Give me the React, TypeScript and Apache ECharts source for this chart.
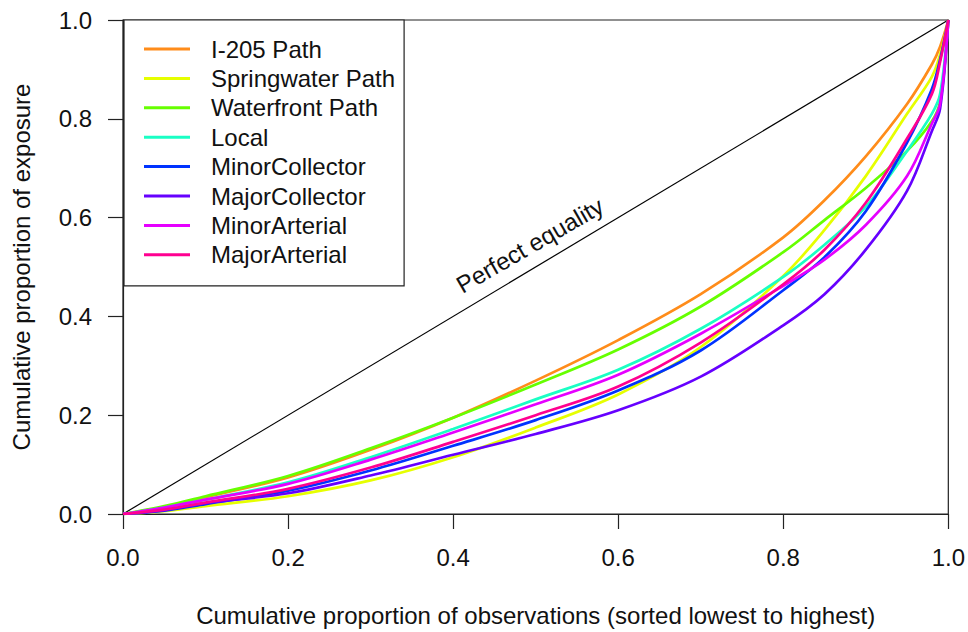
import React, { useEffect, useRef } from "react";
import * as echarts from "echarts";

const xs = [0, 0.05, 0.1, 0.2, 0.3, 0.4, 0.5, 0.6, 0.7, 0.8, 0.85, 0.9, 0.95, 0.98, 0.99, 1.0];

const seriesNames = [
  "I-205 Path",
  "Springwater Path",
  "Waterfront Path",
  "Local",
  "MinorCollector",
  "MajorCollector",
  "MinorArterial",
  "MajorArterial",
];

const seriesColors = ["#FF8C1A", "#E6FF00", "#66FF00", "#1AFFC4", "#0033FF", "#6600FF", "#E600FF", "#FF0090"];

const i205 = [0, 0.014, 0.034, 0.074, 0.13, 0.195, 0.27, 0.352, 0.445, 0.56, 0.635, 0.724, 0.83, 0.91, 0.946, 1];
const springwater = [0, 0.006, 0.016, 0.036, 0.068, 0.115, 0.175, 0.242, 0.338, 0.482, 0.575, 0.684, 0.81, 0.885, 0.93, 1];
const waterfront = [0, 0.016, 0.036, 0.077, 0.133, 0.195, 0.262, 0.333, 0.42, 0.53, 0.595, 0.66, 0.735, 0.795, 0.835, 1];
const local = [0, 0.013, 0.029, 0.064, 0.115, 0.172, 0.232, 0.292, 0.375, 0.48, 0.545, 0.622, 0.735, 0.81, 0.85, 1];
const minorCollector = [0, 0.007, 0.02, 0.047, 0.088, 0.138, 0.19, 0.25, 0.331, 0.453, 0.52, 0.613, 0.752, 0.86, 0.92, 1];
const majorCollector = [0, 0.008, 0.022, 0.042, 0.078, 0.12, 0.162, 0.21, 0.278, 0.382, 0.445, 0.535, 0.654, 0.775, 0.82, 1];
const minorArterial = [0, 0.013, 0.029, 0.061, 0.11, 0.165, 0.222, 0.282, 0.365, 0.462, 0.515, 0.585, 0.684, 0.79, 0.83, 1];
const majorArterial = [0, 0.009, 0.023, 0.051, 0.094, 0.146, 0.2, 0.258, 0.347, 0.465, 0.535, 0.63, 0.76, 0.85, 0.915, 1];

const seriesValues = [i205, springwater, waterfront, local, minorCollector, majorCollector, minorArterial, majorArterial];

const equality = [
  [0, 0],
  [1, 1],
];

const xTitle = "Cumulative proportion of observations (sorted lowest to highest)";
const yTitle = "Cumulative proportion of exposure";
const equalityText = "Perfect equality";

const FONT = "'Liberation Sans', Arial, Helvetica, sans-serif";

export default function App() {
  const ref = useRef<HTMLDivElement>(null);

  useEffect(() => {
    if (!ref.current) return;
    const chart = echarts.init(ref.current, null, { renderer: "svg" });

    const axisCommon = {
      type: "value" as const,
      min: 0,
      max: 1,
      interval: 0.2,
      splitLine: { show: false },
      axisLine: { show: true, lineStyle: { color: "#222", width: 1.2 } },
      axisTick: { show: true, inside: false, length: 15, lineStyle: { color: "#222", width: 1.2 } },
      axisLabel: {
        color: "#111",
        fontSize: 24,
        fontFamily: FONT,
        formatter: (v: number) => v.toFixed(1),
      },
      nameLocation: "middle" as const,
      nameTextStyle: { color: "#111", fontSize: 24, fontFamily: FONT },
    };

    const lines = seriesNames.map((name, i) => ({
      name,
      type: "line" as const,
      data: xs.map((x, j) => [x, seriesValues[i][j]]),
      showSymbol: false,
      symbol: "none",
      smooth: 0.35,
      lineStyle: { color: seriesColors[i], width: 2.7 },
      itemStyle: { color: seriesColors[i] },
      z: 3 + i,
    }));

    chart.setOption({
      animation: false,
      backgroundColor: "#fff",
      grid: {
        left: 123,
        top: 20,
        right: 18,
        bottom: 115,
        show: true,
        borderColor: "#222",
        borderWidth: 1.2,
        containLabel: false,
      },
      xAxis: {
        ...axisCommon,
        name: xTitle,
        nameGap: 89,
        axisLabel: { ...axisCommon.axisLabel, margin: 31 },
      },
      yAxis: {
        ...axisCommon,
        name: yTitle,
        nameGap: 90,
        axisLabel: { ...axisCommon.axisLabel, margin: 31 },
      },
      legend: {
        data: seriesNames,
        orient: "vertical",
        left: 124,
        top: 20,
        padding: [17, 9, 19, 20],
        itemWidth: 46,
        itemHeight: 3,
        itemGap: 5.4,
        icon: "rect",
        borderColor: "#222",
        borderWidth: 1.2,
        backgroundColor: "#fff",
        selectedMode: false,
        textStyle: {
          color: "#111",
          fontSize: 24,
          lineHeight: 24,
          fontFamily: FONT,
          padding: [0, 0, 0, 16],
        },
      },
      series: [
        {
          name: "equality",
          type: "line",
          data: equality,
          showSymbol: false,
          symbol: "none",
          lineStyle: { color: "#000", width: 1.2 },
          z: 2,
          markPoint: {
            symbol: "circle",
            symbolSize: 0,
            data: [{ coord: [0.493, 0.544] }],
            label: {
              show: true,
              position: "inside",
              rotate: 30,
              formatter: equalityText,
              color: "#111",
              fontSize: 24,
              fontFamily: FONT,
            },
          },
        },
        ...lines,
      ],
    });

    return () => chart.dispose();
  }, []);

  return <div ref={ref} style={{ position: "fixed", left: 0, top: 0, width: 968, height: 632 }} />;
}
